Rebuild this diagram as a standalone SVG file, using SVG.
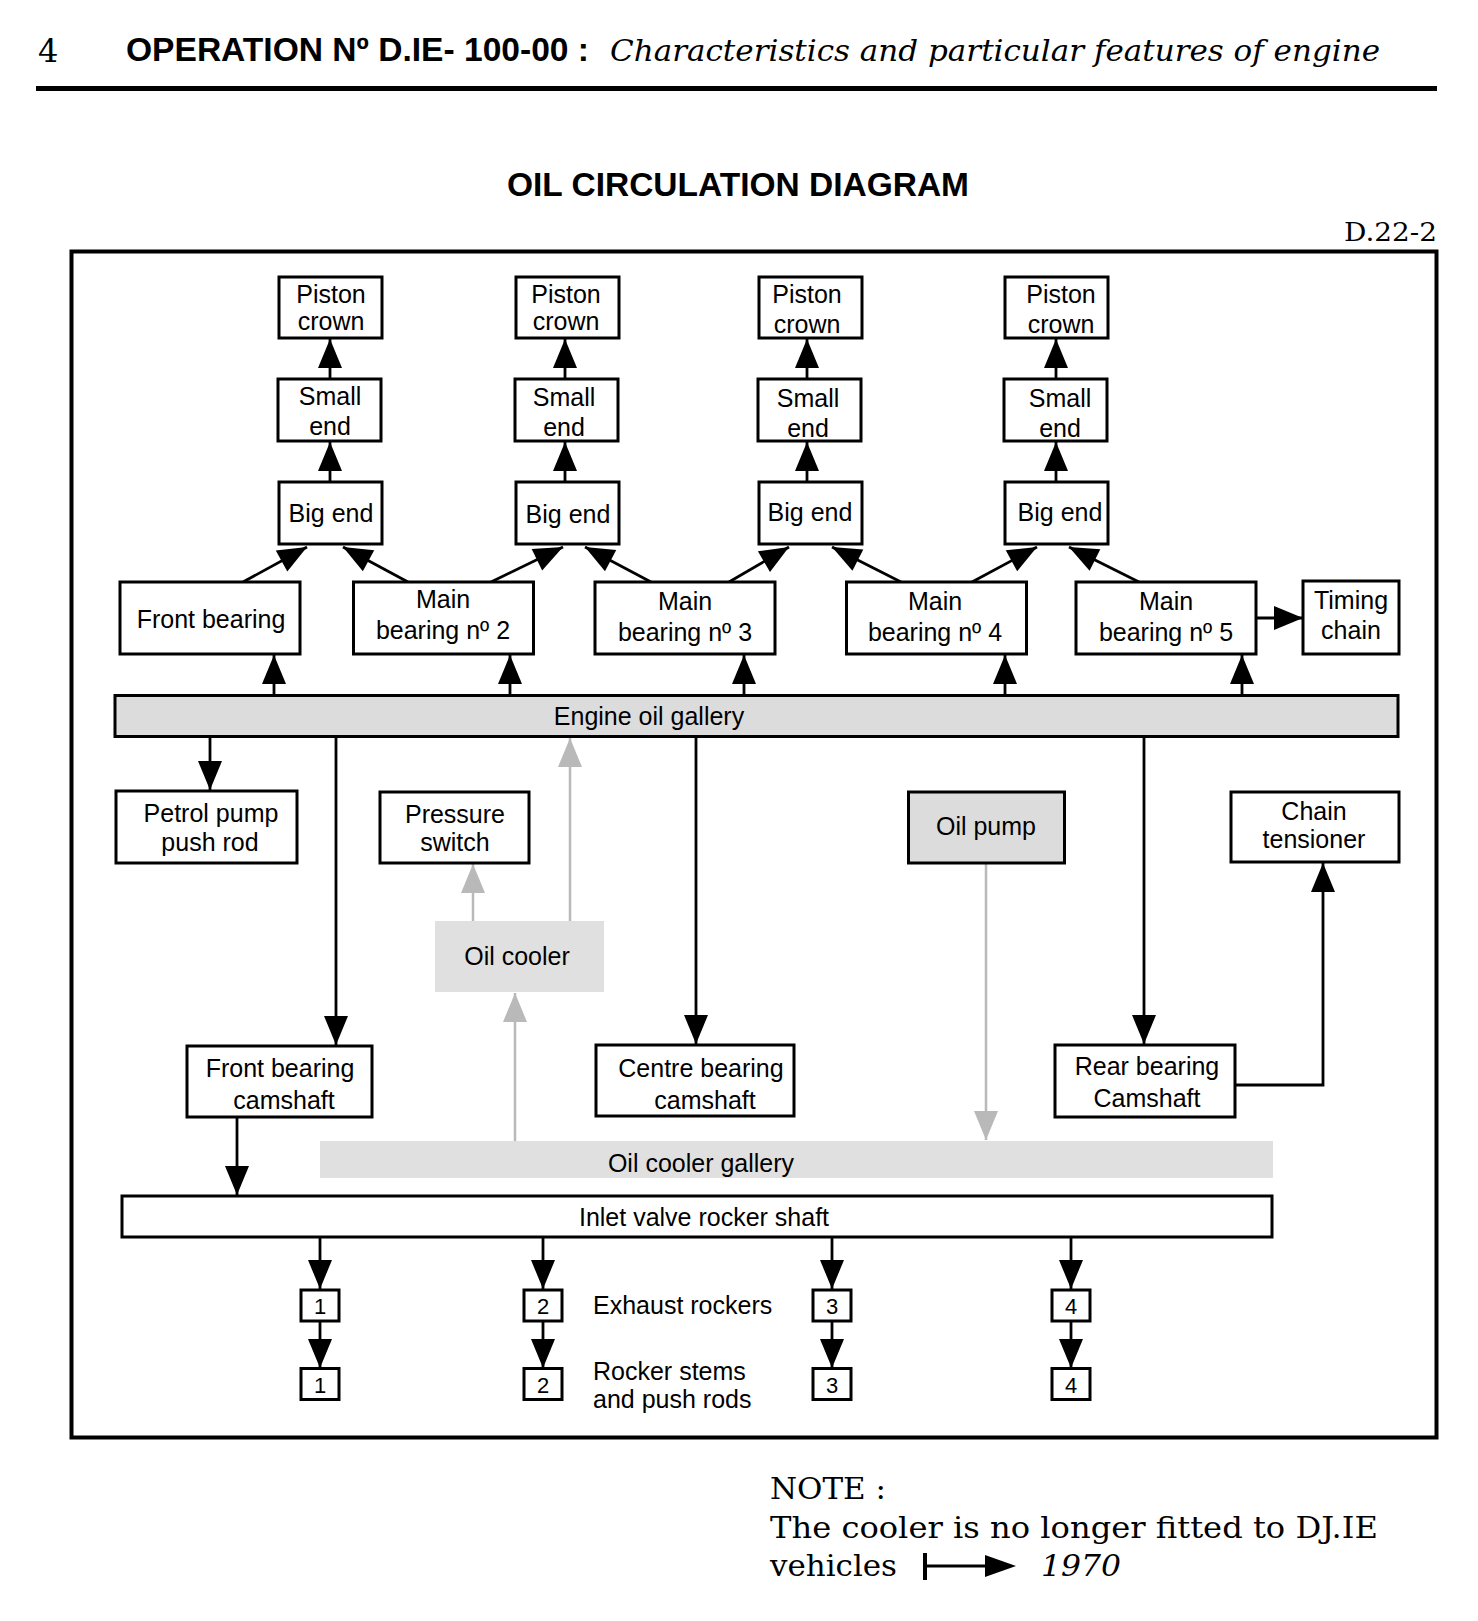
<svg xmlns="http://www.w3.org/2000/svg" width="1478" height="1621" viewBox="0 0 1478 1621">
<defs>
<marker id="ah" markerUnits="userSpaceOnUse" markerWidth="32" markerHeight="26" refX="29" refY="12" orient="auto" overflow="visible"><path d="M0,0 L29,12 L0,24 z" fill="#000"/></marker>
<marker id="ahg" markerUnits="userSpaceOnUse" markerWidth="32" markerHeight="26" refX="29" refY="12" orient="auto" overflow="visible"><path d="M0,0 L29,12 L0,24 z" fill="#b9b9b9"/></marker>
</defs>
<style>
.box{fill:#fff;stroke:#000;stroke-width:3}
.gbox{fill:#dcdcdc;stroke:#000;stroke-width:3}
.lbox{fill:#e0e0e0;stroke:none}
.t{font-family:"Liberation Sans",Arial,sans-serif;font-size:25px;fill:#000;text-anchor:middle}
.n{font-family:"Liberation Sans",Arial,sans-serif;font-size:22px;fill:#000;text-anchor:middle}
.c{fill:none;stroke:#000;stroke-width:2.8;marker-end:url(#ah)}
.cg{fill:none;stroke:#b9b9b9;stroke-width:2.5;marker-end:url(#ahg)}
.serif{font-family:"DejaVu Serif","Liberation Serif",serif;fill:#000}
</style>
<rect width="1478" height="1621" fill="#fff"/>
<g id="header">
<text class="serif" x="38" y="62" font-size="32">4</text>
<text x="126" y="61" font-family="Liberation Sans,Arial,sans-serif" font-weight="bold" font-size="33" textLength="463" lengthAdjust="spacingAndGlyphs">OPERATION Nº D.IE- 100-00 :</text>
<text class="serif" x="610" y="61" font-size="30" font-style="italic" textLength="770" lengthAdjust="spacingAndGlyphs">Characteristics and particular features of engine</text>
<rect x="36" y="86" width="1401" height="5" fill="#000"/>
<text x="738" y="196" font-family="Liberation Sans,Arial,sans-serif" font-weight="bold" font-size="33" text-anchor="middle" textLength="462" lengthAdjust="spacingAndGlyphs">OIL CIRCULATION DIAGRAM</text>
<text class="serif" x="1437" y="241" font-size="26" text-anchor="end" textLength="93" lengthAdjust="spacingAndGlyphs">D.22-2</text>
</g>
<rect id="frame" x="71.5" y="251.5" width="1365" height="1186" fill="none" stroke="#000" stroke-width="4"/>

<g id="connectors">
<!-- small end -> piston crown -->
<line class="c" x1="330" y1="379" x2="330" y2="339"/>
<line class="c" x1="565" y1="379" x2="565" y2="339"/>
<line class="c" x1="807" y1="379" x2="807" y2="339"/>
<line class="c" x1="1056" y1="379" x2="1056" y2="339"/>
<!-- big end -> small end -->
<line class="c" x1="330" y1="482" x2="330" y2="442"/>
<line class="c" x1="565" y1="482" x2="565" y2="442"/>
<line class="c" x1="807" y1="482" x2="807" y2="442"/>
<line class="c" x1="1056" y1="482" x2="1056" y2="442"/>
<!-- bearings -> big ends -->
<line class="c" x1="243" y1="582" x2="307" y2="547"/>
<line class="c" x1="408" y1="582" x2="343" y2="547"/>
<line class="c" x1="491" y1="582" x2="563" y2="547"/>
<line class="c" x1="651" y1="582" x2="585" y2="547"/>
<line class="c" x1="729" y1="582" x2="789" y2="547"/>
<line class="c" x1="901" y1="582" x2="832" y2="547"/>
<line class="c" x1="972" y1="582" x2="1037" y2="547"/>
<line class="c" x1="1139" y1="582" x2="1069" y2="547"/>
<!-- main 5 -> timing chain -->
<line class="c" x1="1256" y1="618" x2="1303" y2="618"/>
<!-- gallery -> bearings -->
<line class="c" x1="274" y1="695" x2="274" y2="655"/>
<line class="c" x1="510" y1="695" x2="510" y2="655"/>
<line class="c" x1="744" y1="695" x2="744" y2="655"/>
<line class="c" x1="1005" y1="695" x2="1005" y2="655"/>
<line class="c" x1="1242" y1="695" x2="1242" y2="655"/>
<!-- flow arrows in gallery -->
<line class="c" x1="1044" y1="716" x2="963" y2="716"/>
<line class="c" x1="1061" y1="716" x2="1145" y2="716"/>
<!-- gallery down -->
<line class="c" x1="210" y1="737" x2="210" y2="790"/>
<line class="c" x1="336" y1="737" x2="336" y2="1045"/>
<line class="c" x1="696" y1="737" x2="696" y2="1044"/>
<line class="c" x1="1144" y1="737" x2="1144" y2="1044"/>
<!-- rear bearing -> chain tensioner -->
<polyline class="c" points="1235,1085 1323,1085 1323,863"/>
<!-- oil cooler (grey) -->
<line class="cg" x1="473" y1="921" x2="473" y2="864"/>
<line class="cg" x1="570" y1="921" x2="570" y2="738"/>
<line class="cg" x1="515" y1="1141" x2="515" y2="993"/>
<line class="cg" x1="986" y1="864" x2="986" y2="1140"/>
<!-- front bearing camshaft -> inlet valve rocker shaft -->
<line class="c" x1="237" y1="1117" x2="237" y2="1195"/>
<!-- rocker shaft -> exhaust rockers -->
<line class="c" x1="320" y1="1237" x2="320" y2="1289"/>
<line class="c" x1="543" y1="1237" x2="543" y2="1289"/>
<line class="c" x1="832" y1="1237" x2="832" y2="1289"/>
<line class="c" x1="1071" y1="1237" x2="1071" y2="1289"/>
<!-- exhaust rockers -> rocker stems -->
<line class="c" x1="320" y1="1321" x2="320" y2="1368"/>
<line class="c" x1="543" y1="1321" x2="543" y2="1368"/>
<line class="c" x1="832" y1="1321" x2="832" y2="1368"/>
<line class="c" x1="1071" y1="1321" x2="1071" y2="1368"/>
</g>

<g id="piston-crown-1"><rect class="box" x="279" y="277" width="103" height="61"/><text class="t" x="331" y="303">Piston</text><text class="t" x="331" y="330">crown</text></g>
<g id="piston-crown-2"><rect class="box" x="516" y="277" width="103" height="61"/><text class="t" x="566" y="303">Piston</text><text class="t" x="566" y="330">crown</text></g>
<g id="piston-crown-3"><rect class="box" x="759" y="277" width="103" height="61"/><text class="t" x="807" y="303">Piston</text><text class="t" x="807" y="333">crown</text></g>
<g id="piston-crown-4"><rect class="box" x="1005" y="277" width="103" height="61"/><text class="t" x="1061" y="303">Piston</text><text class="t" x="1061" y="333">crown</text></g>

<g id="small-end-1"><rect class="box" x="278" y="379" width="103" height="62"/><text class="t" x="330" y="405">Small</text><text class="t" x="330" y="435">end</text></g>
<g id="small-end-2"><rect class="box" x="515" y="379" width="103" height="62"/><text class="t" x="564" y="406">Small</text><text class="t" x="564" y="436">end</text></g>
<g id="small-end-3"><rect class="box" x="758" y="379" width="103" height="62"/><text class="t" x="808" y="407">Small</text><text class="t" x="808" y="437">end</text></g>
<g id="small-end-4"><rect class="box" x="1004" y="379" width="103" height="62"/><text class="t" x="1060" y="407">Small</text><text class="t" x="1060" y="437">end</text></g>

<g id="big-end-1"><rect class="box" x="279" y="482" width="103" height="62"/><text class="t" x="331" y="522">Big end</text></g>
<g id="big-end-2"><rect class="box" x="516" y="482" width="103" height="62"/><text class="t" x="568" y="523">Big end</text></g>
<g id="big-end-3"><rect class="box" x="759" y="482" width="103" height="62"/><text class="t" x="810" y="521">Big end</text></g>
<g id="big-end-4"><rect class="box" x="1005" y="482" width="103" height="62"/><text class="t" x="1060" y="521">Big end</text></g>

<g id="front-bearing"><rect class="box" x="120" y="582" width="180" height="72"/><text class="t" x="211" y="628">Front bearing</text></g>
<g id="main-bearing-2"><rect class="box" x="353.5" y="582" width="180" height="72"/><text class="t" x="443" y="608">Main</text><text class="t" x="443" y="639">bearing nº 2</text></g>
<g id="main-bearing-3"><rect class="box" x="595" y="582" width="180" height="72"/><text class="t" x="685" y="610">Main</text><text class="t" x="685" y="641">bearing nº 3</text></g>
<g id="main-bearing-4"><rect class="box" x="846.5" y="582" width="180" height="72"/><text class="t" x="935" y="610">Main</text><text class="t" x="935" y="641">bearing nº 4</text></g>
<g id="main-bearing-5"><rect class="box" x="1076" y="582" width="180" height="72"/><text class="t" x="1166" y="610">Main</text><text class="t" x="1166" y="641">bearing nº 5</text></g>
<g id="timing-chain"><rect class="box" x="1303" y="581" width="96" height="73"/><text class="t" x="1351" y="609">Timing</text><text class="t" x="1351" y="639">chain</text></g>

<g id="engine-oil-gallery"><rect class="gbox" x="115" y="695.5" width="1283" height="41"/><text class="t" x="649" y="725">Engine oil gallery</text></g>

<g id="petrol-pump-push-rod"><rect class="box" x="116" y="791" width="181" height="72"/><text class="t" x="211" y="822">Petrol pump</text><text class="t" x="210" y="851">push rod</text></g>
<g id="pressure-switch"><rect class="box" x="380" y="792" width="149" height="71"/><text class="t" x="455" y="823">Pressure</text><text class="t" x="455" y="851">switch</text></g>
<g id="oil-pump"><rect class="gbox" x="908.5" y="792" width="156" height="71"/><text class="t" x="986" y="835">Oil pump</text></g>
<g id="chain-tensioner"><rect class="box" x="1231" y="792" width="168" height="70"/><text class="t" x="1314" y="820">Chain</text><text class="t" x="1314" y="848">tensioner</text></g>
<g id="oil-cooler"><rect class="lbox" x="435" y="921" width="169" height="71"/><text class="t" x="517" y="965">Oil cooler</text></g>

<g id="front-bearing-camshaft"><rect class="box" x="187" y="1046" width="185" height="71"/><text class="t" x="280" y="1077">Front bearing</text><text class="t" x="284" y="1109">camshaft</text></g>
<g id="centre-bearing-camshaft"><rect class="box" x="596" y="1045" width="198" height="71"/><text class="t" x="701" y="1077">Centre bearing</text><text class="t" x="705" y="1109">camshaft</text></g>
<g id="rear-bearing-camshaft"><rect class="box" x="1055" y="1045" width="180" height="72"/><text class="t" x="1147" y="1075">Rear bearing</text><text class="t" x="1147" y="1107">Camshaft</text></g>

<g id="oil-cooler-gallery"><rect class="lbox" x="320" y="1141" width="953" height="37"/><text class="t" x="701" y="1172">Oil cooler gallery</text></g>
<g id="inlet-valve-rocker-shaft"><rect class="box" x="122" y="1196" width="1150" height="41"/><text class="t" x="704" y="1226">Inlet valve rocker shaft</text></g>

<g id="exhaust-rocker-1"><rect class="box" x="301" y="1290" width="38" height="31"/><text class="n" x="320" y="1314">1</text></g>
<g id="exhaust-rocker-2"><rect class="box" x="524" y="1290" width="38" height="31"/><text class="n" x="543" y="1314">2</text></g>
<g id="exhaust-rocker-3"><rect class="box" x="813" y="1290" width="38" height="31"/><text class="n" x="832" y="1314">3</text></g>
<g id="exhaust-rocker-4"><rect class="box" x="1052" y="1290" width="38" height="31"/><text class="n" x="1071" y="1314">4</text></g>
<g id="rocker-stem-1"><rect class="box" x="301" y="1368.5" width="38" height="31"/><text class="n" x="320" y="1393">1</text></g>
<g id="rocker-stem-2"><rect class="box" x="524" y="1368.5" width="38" height="31"/><text class="n" x="543" y="1393">2</text></g>
<g id="rocker-stem-3"><rect class="box" x="813" y="1368.5" width="38" height="31"/><text class="n" x="832" y="1393">3</text></g>
<g id="rocker-stem-4"><rect class="box" x="1052" y="1368.5" width="38" height="31"/><text class="n" x="1071" y="1393">4</text></g>
<g id="labels">
<text class="t" x="593" y="1314" style="text-anchor:start">Exhaust rockers</text>
<text class="t" x="593" y="1380" style="text-anchor:start">Rocker stems</text>
<text class="t" x="593" y="1408" style="text-anchor:start">and push rods</text>
</g>

<g id="note">
<text class="serif" x="770" y="1499" font-size="30" textLength="116" lengthAdjust="spacingAndGlyphs">NOTE :</text>
<text class="serif" x="770" y="1538" font-size="30" textLength="608" lengthAdjust="spacingAndGlyphs">The cooler is no longer fitted to DJ.IE</text>
<text class="serif" x="770" y="1576" font-size="30" textLength="127" lengthAdjust="spacingAndGlyphs">vehicles</text>
<line x1="925" y1="1553" x2="925" y2="1580" stroke="#000" stroke-width="4"/>
<line x1="925" y1="1566" x2="990" y2="1566" stroke="#000" stroke-width="3"/>
<path d="M985,1555 L1016,1566 L985,1577 z" fill="#000"/>
<text class="serif" x="1041" y="1576" font-size="30" font-style="italic" textLength="80" lengthAdjust="spacingAndGlyphs">1970</text>
</g>
</svg>
